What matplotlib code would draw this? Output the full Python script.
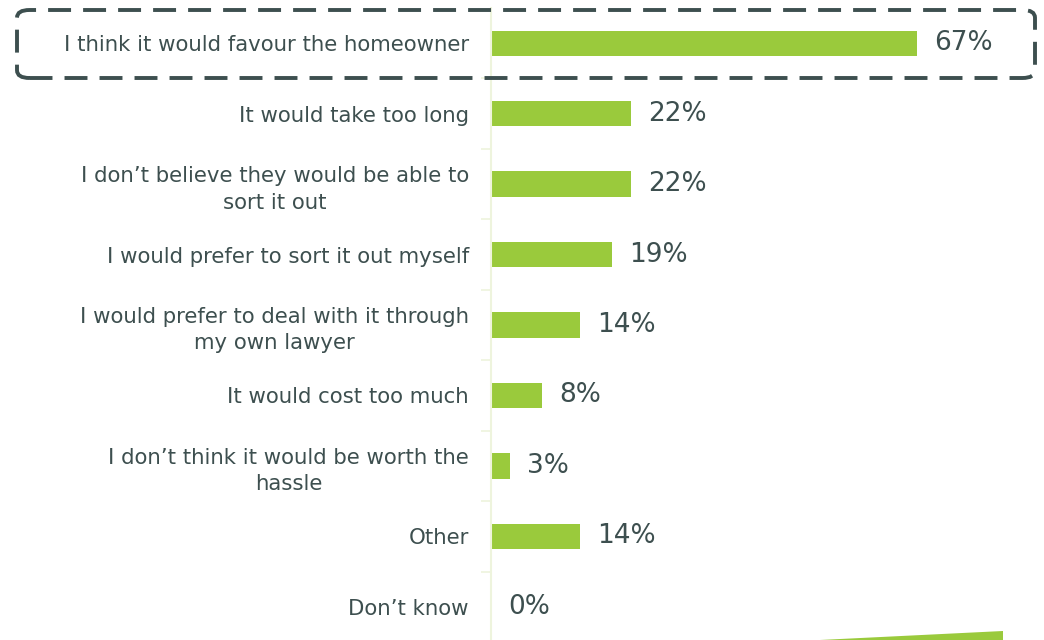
import matplotlib.pyplot as plt
from matplotlib.patches import FancyBboxPatch, Polygon
import numpy as np

# Datos
categorias = [
    "I think it would favour the homeowner",
    "It would take too long",
    "I don\u2019t believe they would be able to\nsort it out",
    "I would prefer to sort it out myself",
    "I would prefer to deal with it through\nmy own lawyer",
    "It would cost too much",
    "I don\u2019t think it would be worth the\nhassle",
    "Other",
    "Don\u2019t know",
]
valores = [67, 22, 22, 19, 14, 8, 3, 14, 0]
etiquetas = ["67%", "22%", "22%", "19%", "14%", "8%", "3%", "14%", "0%"]

verde = "#9aca3c"
texto = "#3d4f4f"
eje = "#eef4dd"

plt.rcParams["font.family"] = ["DejaVu Sans"]

fig = plt.figure(figsize=(10.44, 6.40), dpi=100)
ax = fig.add_axes([491 / 1044, -2 / 640, 553 / 1044, 634 / 640])

y = np.arange(len(categorias))
ax.barh(y, valores, height=0.36, color=verde)
ax.set_ylim(len(categorias) - 0.5, -0.5)
ax.set_xlim(0, 86.9)

for yi, v, lab in zip(y, valores, etiquetas):
    ax.text(v + 2.7, yi, lab, va="center", ha="left", fontsize=19,
            color=texto)

ax.set_yticks(y)
ax.set_yticklabels(categorias, fontsize=15.3, color=texto, linespacing=1.4,
                   multialignment="center")
ax.set_yticks(np.arange(len(categorias) - 1) + 0.5, minor=True)
ax.tick_params(axis="y", which="major", length=0, pad=16)
ax.tick_params(axis="y", which="minor", length=7, color=eje, width=1.2)
ax.set_xticks([])
for s in ["top", "right", "bottom"]:
    ax.spines[s].set_visible(False)
ax.spines["left"].set_color(eje)
ax.spines["left"].set_linewidth(1.5)

# Recuadro discontinuo del primer item
caja = FancyBboxPatch((17 / 1044, (640 - 78) / 640), (1035 - 17) / 1044, 68 / 640,
                      boxstyle="round,pad=0,rounding_size=0.012",
                      transform=fig.transFigure, fill=False, edgecolor=texto,
                      linewidth=2.8, linestyle=(0, (5.9, 3.1)), clip_on=False)
fig.add_artist(caja)

# Forma decorativa abajo a la derecha
forma = Polygon([(820 / 1044, 0), (1003 / 1044, 9 / 640), (1003 / 1044, 0)],
                closed=True, transform=fig.transFigure, color=verde, lw=0)
fig.add_artist(forma)

plt.savefig("out.png", dpi=100)
